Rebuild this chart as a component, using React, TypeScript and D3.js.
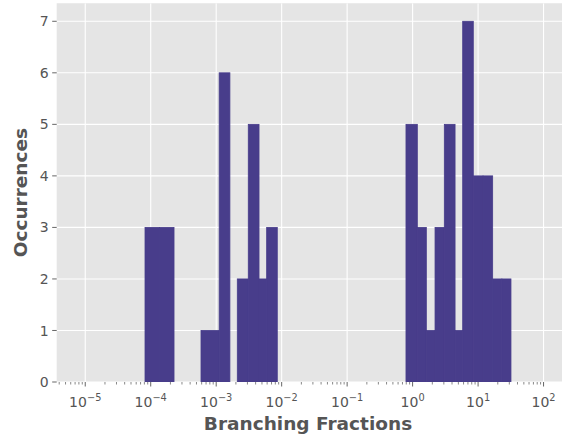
import React from "react";
import * as d3 from "d3";

const binLo = [8.18e-5, 1.36e-4, 5.86e-4, 1.11e-3, 2.10e-3, 3.09e-3, 4.51e-3, 5.90e-3, 0.792, 1.18, 1.62, 2.20, 3.05, 4.45, 5.82, 8.45, 11.9, 16.7, 23.1];
const binHi = [1.36e-4, 2.27e-4, 1.11e-3, 1.62e-3, 3.09e-3, 4.51e-3, 5.90e-3, 8.57e-3, 1.18, 1.62, 2.20, 3.05, 4.45, 5.82, 8.45, 11.9, 16.7, 23.1, 31.8];
const counts = [3, 3, 1, 6, 2, 5, 2, 3, 5, 3, 1, 3, 5, 1, 7, 4, 4, 2, 2];
const xTickExps = [-5, -4, -3, -2, -1, 0, 1, 2];
const yTicks = [0, 1, 2, 3, 4, 5, 6, 7];
const xLabel = "Branching Fractions";
const yLabel = "Occurrences";

const W = 562, H = 435;
const L = 56.7, R = 572.1, T = 3.25, B = 382;

export default function App() {
  const x = d3.scaleLog().domain([Math.pow(10, -5.436), Math.pow(10, 2.436)]).range([L, R]);
  const y = d3.scaleLinear().domain([0, 7.35]).range([B, T]);
  const [d0, d1] = x.domain();
  const minor: number[] = [];
  for (let e = -6; e <= 2; e++) {
    for (let k = 2; k <= 9; k++) {
      const v = k * Math.pow(10, e);
      if (v >= d0 && v <= d1) minor.push(v);
    }
  }
  const font = "'DejaVu Sans', sans-serif";
  const grey = "#555555";
  return (
    <svg width={W} height={H} style={{ position: "absolute", left: 0, top: 0 }} fontFamily={font}>
      <defs>
        <clipPath id="plotclip"><rect x={L} y={T} width={R - L} height={B - T} /></clipPath>
      </defs>
      <rect x={L} y={T} width={R - L} height={B - T} fill="#E5E5E5" />
      <g clipPath="url(#plotclip)">
        {xTickExps.map((e) => (
          <line key={"gx" + e} x1={x(Math.pow(10, e))} x2={x(Math.pow(10, e))} y1={T} y2={B} stroke="#fff" strokeWidth={1.1} />
        ))}
        {yTicks.map((t) => (
          <line key={"gy" + t} x1={L} x2={R} y1={y(t)} y2={y(t)} stroke="#fff" strokeWidth={1.1} />
        ))}
        {counts.map((c, i) => (
          <rect key={"b" + i} x={x(binLo[i])} width={x(binHi[i]) - x(binLo[i])} y={y(c)} height={y(0) - y(c)} fill="#483D8B" stroke="#483D8B" strokeWidth={0.8} />
        ))}
      </g>
      {minor.map((v, i) => (
        <line key={"mn" + i} x1={x(v)} x2={x(v)} y1={B} y2={B + 2.5} stroke={grey} strokeWidth={0.7} />
      ))}
      {xTickExps.map((e) => (
        <g key={"xt" + e}>
          <line x1={x(Math.pow(10, e))} x2={x(Math.pow(10, e))} y1={B} y2={B + 4.5} stroke={grey} strokeWidth={0.9} />
          <text x={x(Math.pow(10, e))} y={407} textAnchor="middle" fontSize={14} fill={grey}>
            10<tspan fontSize={9.8} dy={-6}>{e < 0 ? "\u2212" + Math.abs(e) : String(e)}</tspan>
          </text>
        </g>
      ))}
      {yTicks.map((t) => (
        <g key={"yt" + t}>
          <line x1={L - 4.5} x2={L} y1={y(t)} y2={y(t)} stroke={grey} strokeWidth={0.9} />
          <text x={L - 8} y={y(t)} dy="0.36em" textAnchor="end" fontSize={14} fill={grey}>{t}</text>
        </g>
      ))}
      <text x={308} y={430} textAnchor="middle" fontSize={18.5} fontWeight="bold" fill={grey}>{xLabel}</text>
      <text transform={`translate(26.5,${(T + B) / 2}) rotate(-90)`} textAnchor="middle" fontSize={18.5} fontWeight="bold" fill={grey}>{yLabel}</text>
    </svg>
  );
}
